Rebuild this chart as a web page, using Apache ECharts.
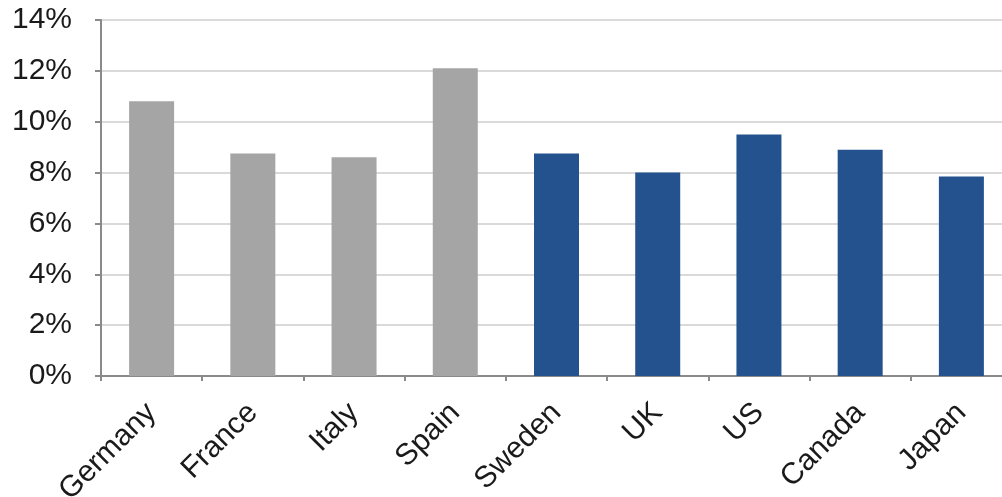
<!DOCTYPE html>
<html>
<head>
<meta charset="utf-8">
<script src="https://cdn.jsdelivr.net/npm/echarts@6/dist/echarts.min.js"></script>
<style>
  html, body { margin: 0; padding: 0; background: #ffffff; }
  #chart { width: 1002px; height: 497px; }
</style>
</head>
<body>
<div id="chart"></div>
<script>
// Country categories along the x axis
const countries = ['Germany', 'France', 'Italy', 'Spain', 'Sweden', 'UK', 'US', 'Canada', 'Japan'];
// Values in percent
const values = [10.8, 8.75, 8.6, 12.1, 8.75, 8.0, 9.5, 8.9, 7.85];
// Group of each country: euro-area members vs. others
const groups = ['euro', 'euro', 'euro', 'euro', 'other', 'other', 'other', 'other', 'other'];
// Y axis tick range (percent)
const yTicks = [0, 2, 4, 6, 8, 10, 12, 14];

const groupColors = { euro: '#a5a5a5', other: '#23528e' };

const chart = echarts.init(document.getElementById('chart'), null, { renderer: 'canvas' });

chart.setOption({
  animation: false,
  backgroundColor: '#ffffff',
  grid: {
    left: 101, top: 20, bottom: 121, width: 911,
    containLabel: false,
    outerBoundsMode: 'none'
  },
  xAxis: {
    type: 'category',
    data: countries,
    boundaryGap: true,
    axisLine: { show: true, lineStyle: { color: '#8a8a8a', width: 2 } },
    axisTick: { show: true, length: 5, lineStyle: { color: '#8a8a8a', width: 2 } },
    axisLabel: {
      rotate: 45,
      margin: 32,
      interval: 0,
      color: '#1a1a1a',
      fontFamily: 'Liberation Sans, Arial, sans-serif',
      fontSize: 30
    },
    splitLine: { show: false }
  },
  yAxis: {
    type: 'value',
    min: yTicks[0],
    max: yTicks[yTicks.length - 1],
    interval: yTicks[1] - yTicks[0],
    axisLine: { show: true, lineStyle: { color: '#8a8a8a', width: 2 } },
    axisTick: { show: true, inside: false, length: 6, lineStyle: { color: '#8a8a8a', width: 2 } },
    axisLabel: {
      formatter: '{value}%',
      margin: 29,
      padding: [10, 0, 0, 0],
      color: '#1a1a1a',
      fontFamily: 'Liberation Sans, Arial, sans-serif',
      fontSize: 30
    },
    splitLine: { show: true, lineStyle: { color: '#dadada', width: 2 } }
  },
  series: [{
    type: 'bar',
    barWidth: 45,
    data: values.map((v, i) => ({
      value: v,
      itemStyle: { color: groupColors[groups[i]] }
    }))
  }]
});
</script>
</body>
</html>
